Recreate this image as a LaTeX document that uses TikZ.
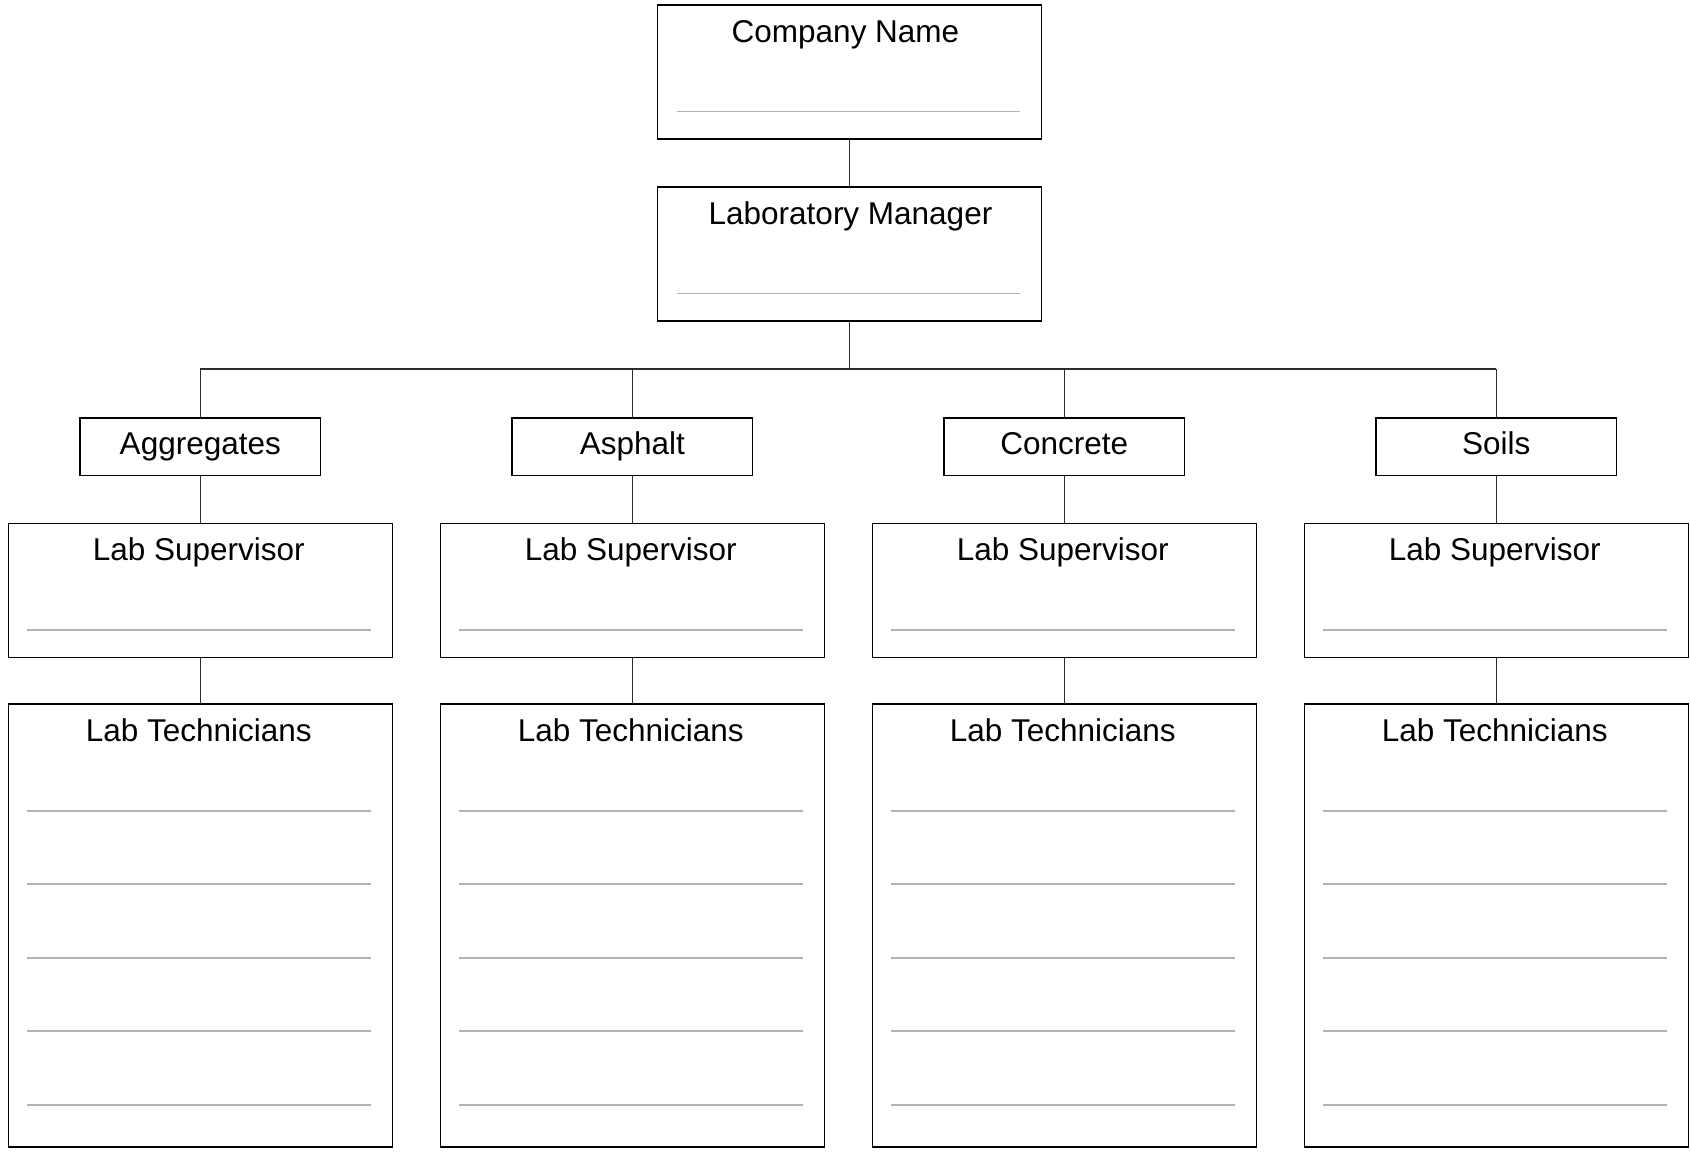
\documentclass[tikz,border=0pt]{standalone}
\usepackage{fontspec}
\setmainfont{Liberation Sans}
\usetikzlibrary{calc}
\definecolor{conncol}{RGB}{45,45,45}
\definecolor{rulecol}{RGB}{178,178,178}
\begin{document}
\begin{tikzpicture}[x=1pt,y=-1pt,
  box/.style={draw=black,line width=1.5pt,fill=white,rectangle,inner sep=0pt,outer sep=0pt,minimum width=384pt},
  bigbox/.style={box,minimum height=134pt},
  deptbox/.style={box,minimum width=240.5pt,minimum height=57.5pt,
    font=\fontsize{31.5}{36}\selectfont,text height=22.7pt,text depth=6.6pt},
  techbox/.style={box,minimum height=442.7pt},
  lbl/.style={anchor=base,inner sep=0pt,font=\fontsize{31.5}{36}\selectfont},
  conn/.style={draw=conncol,line width=1.3pt},
  rulel/.style={draw=rulecol,line width=1.6pt}
]
\fill[white] (0,0) rectangle (1690,1152);
\useasboundingbox (0,0) rectangle (1690,1152);

% bus coordinates
\coordinate (b0) at (200.3,369);
\coordinate (b1) at (632.3,369);
\coordinate (b2) at (1064.3,369);
\coordinate (b3) at (1496.3,369);

% top boxes
\node[bigbox] (cn) at (849.5,72) {};
\node[bigbox] (mgr) at (849.5,254) {};
\node[lbl] (cnt) at ($(cn.north)+(-4,37.5)$) {Company Name};
\node[lbl] (mgrt) at ($(mgr.north)+(1,37.5)$) {Laboratory Manager};
\draw[rulel] ($(cn.north west)+(19,106.5)$) -- ($(cn.north east)+(-21.5,106.5)$);
\draw[rulel] ($(mgr.north west)+(19,106.5)$) -- ($(mgr.north east)+(-21.5,106.5)$);

% columns
\foreach \i/\name in {0/Aggregates,1/Asphalt,2/Concrete,3/Soils}{
  \pgfmathsetmacro{\cx}{200.3+432*\i}
  \node[deptbox] (d\i) at (\cx,446.75) {\name};
  \node[bigbox] (s\i) at (\cx,590.3) {};
  \node[lbl] (st\i) at ($(s\i.north)+(-1.5,37.5)$) {Lab Supervisor};
  \draw[rulel] ($(s\i.north west)+(19,106.5)$) -- ($(s\i.north east)+(-21.5,106.5)$);
  \node[techbox] (t\i) at (\cx,925.4) {};
  \node[lbl] (tt\i) at ($(t\i.north)+(-1.5,37.5)$) {Lab Technicians};
  \foreach \k in {0,...,4}{
    \draw[rulel] ($(t\i.north west)+(19,106.7+73.5*\k)$) -- ($(t\i.north east)+(-21.5,106.7+73.5*\k)$);
  }
}

% connectors
\draw[conn] (cn.south) -- (mgr.north);
\draw[conn] (mgr.south) -- (mgr.south |- b0);
\draw[conn] (b0) -- (b3);
\foreach \i in {0,...,3}{
  \draw[conn] (b\i) -- (b\i |- d\i.north);
  \draw[conn] (d\i.south -| b\i) -- (b\i |- s\i.north);
  \draw[conn] (s\i.south -| b\i) -- (b\i |- t\i.north);
}
\end{tikzpicture}
\end{document}
